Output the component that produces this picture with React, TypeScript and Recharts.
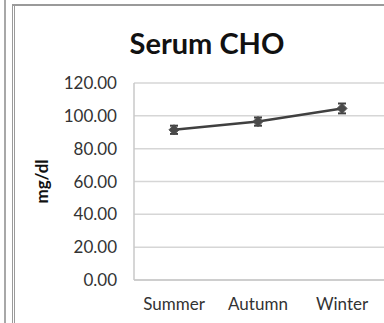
import { LineChart, Line, XAxis, YAxis, CartesianGrid, ErrorBar } from 'recharts'

// Serum CHO by season (mg/dl)
const seasons = ['Summer', 'Autumn', 'Winter']
const meanValues = [91.5, 96.5, 104.5]
const errValues = [2.5, 2.5, 3]
const yTicks = [0, 20, 40, 60, 80, 100, 120]

const data = seasons.map((s, i) => ({ season: s, cho: meanValues[i], err: errValues[i] }))

const font = 'Lato, "Open Sans", sans-serif'

function Diamond(props: { cx?: number; cy?: number }) {
  const { cx, cy } = props
  if (cx == null || cy == null) return null
  const r = 5
  return (
    <path
      d={`M${cx},${cy - r}L${cx + r},${cy}L${cx},${cy + r}L${cx - r},${cy}Z`}
      fill="#4a4a4a"
      stroke="#4a4a4a"
    />
  )
}

export default function App() {
  return (
    <div
      style={{
        position: 'fixed',
        left: 0,
        top: 0,
        width: 384,
        height: 323,
        overflow: 'hidden',
        background: '#fff',
        fontFamily: font,
      }}
    >
      <style>{'html,body{margin:0;padding:0;overflow:hidden}'}</style>
      {/* frame lines */}
      <div style={{ position: 'absolute', left: 4, top: 0, width: 2, height: 323, background: '#a8a8a8' }} />
      <div style={{ position: 'absolute', left: 12, top: 4, width: 1, height: 319, background: '#9a9a9a' }} />
      <div style={{ position: 'absolute', left: 14, top: 4, width: 1, height: 319, background: '#9a9a9a' }} />
      <div style={{ position: 'absolute', left: 12, top: 4, width: 372, height: 2, background: '#9a9a9a' }} />
      <div
        style={{
          position: 'absolute',
          left: 0,
          width: 414,
          top: 27,
          textAlign: 'center',
          fontSize: 29,
          fontWeight: 700,
          color: '#111',
          lineHeight: '32px',
        }}
      >
        Serum CHO
      </div>
      <div style={{ position: 'absolute', left: 0, top: 0, width: 384, height: 323, overflow: 'hidden' }}>
        <LineChart width={420} height={323} data={data} margin={{ top: 83, right: 36, bottom: 13, left: 0 }}>
          <CartesianGrid vertical={false} stroke="#d6d6d6" strokeWidth={1.5} />
          <XAxis
            dataKey="season"
            height={30}
            padding={{ left: 40, right: 42 }}
            axisLine={{ stroke: '#c8c8c8', strokeWidth: 1.5 }}
            tickLine={false}
            tickSize={0}
            tickMargin={18}
            tick={{ fill: '#333', fontSize: 17, fontFamily: font }}
          />
          <YAxis
            width={134}
            domain={[0, 120]}
            ticks={yTicks}
            interval={0}
            tickFormatter={(v: number) => v.toFixed(2)}
            axisLine={{ stroke: '#c8c8c8', strokeWidth: 1.5 }}
            tickLine={false}
            tickSize={0}
            tickMargin={17}
            tick={{ fill: '#333', fontSize: 17, fontFamily: font }}
            label={{
              value: 'mg/dl',
              angle: -90,
              position: 'insideLeft',
              offset: 42,
              style: { fill: '#111', fontSize: 17, fontWeight: 700, fontFamily: font, textAnchor: 'middle' },
            }}
          />
          <Line
            dataKey="cho"
            stroke="#404040"
            strokeWidth={2.5}
            dot={<Diamond />}
            activeDot={false}
            isAnimationActive={false}
          >
            <ErrorBar dataKey="err" width={4} stroke="#404040" strokeWidth={2} />
          </Line>
        </LineChart>
      </div>
    </div>
  )
}
